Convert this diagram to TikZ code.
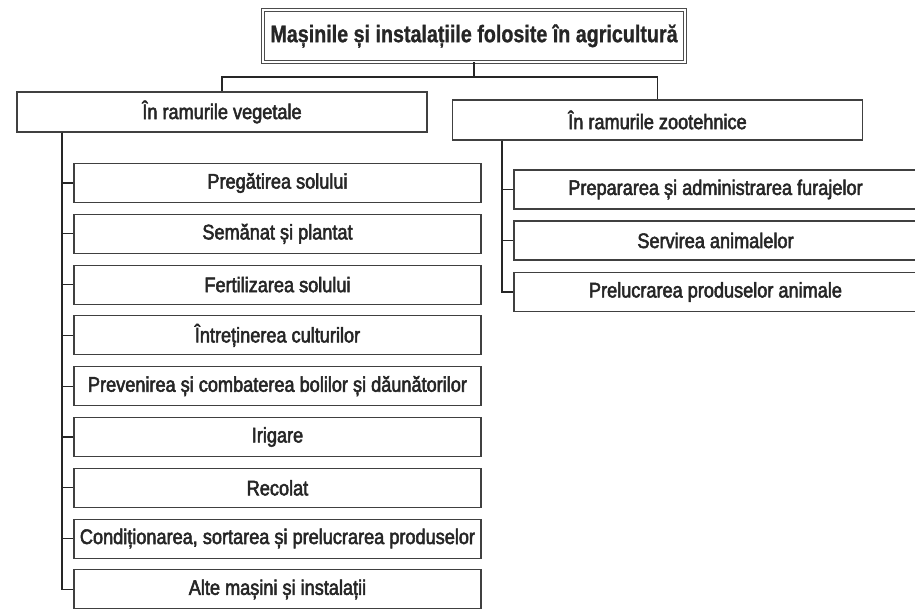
\documentclass[tikz,border=0pt]{standalone}
\usepackage{fontspec}
\setmainfont{Liberation Sans}
\newfontfamily\boxfont{Liberation Sans}[FakeStretch=0.86,FakeBold=2.5]
\newfontfamily\titlefont{Liberation Sans}[FakeStretch=0.82,FakeBold=1]

\begin{document}
\begin{tikzpicture}[x=0.03cm, y=-0.03cm, line width=1.1pt, color=black!85,
    title node/.style={draw=black!70, double, double distance=1.4pt, line width=0.8pt, minimum width=12.66cm, minimum height=1.56cm, inner sep=0pt, font=\titlefont\fontsize{20.5}{24}\selectfont\bfseries},
    main node/.style={draw=black!75, line width=0.9pt, minimum width=12.3cm, minimum height=1.2cm, inner sep=0pt, font=\boxfont\fontsize{18}{21}\selectfont},
    sub node/.style={main node, minimum width=12.21cm, minimum height=1.17cm}]

    \useasboundingbox (0,0) rectangle (915,610);

    % Title
    \node[title node] (T) at (474,36) {Mașinile și instalațiile folosite în agricultură};

    % Two branches
    \node[main node] (V) at (222,112) {În ramurile vegetale};
    \node[main node] (Z) at (657.5,120) {În ramurile zootehnice};

    % Vegetal branch
    \node[sub node] (V1) at (277.5,183) {Pregătirea solului};
    \node[sub node] (V2) at (277.5,233.8) {Semănat și plantat};
    \node[sub node] (V3) at (277.5,284.6) {Fertilizarea solului};
    \node[sub node] (V4) at (277.5,335.4) {Întreținerea culturilor};
    \node[sub node] (V5) at (277.5,386.2) {Prevenirea și combaterea bolilor și dăunătorilor};
    \node[sub node] (V6) at (277.5,437) {Irigare};
    \node[sub node] (V7) at (277.5,487.8) {Recolat};
    \node[sub node] (V8) at (277.5,538.6) {Condiționarea, sortarea și prelucrarea produselor};
    \node[sub node] (V9) at (277.5,589.4) {Alte mașini și instalații};

    % Zootechnical branch
    \node[sub node, minimum width=12.09cm] (Z1) at (715.5,189.5) {Prepararea și administrarea furajelor};
    \node[sub node, minimum width=12.09cm] (Z2) at (715.5,240.5) {Servirea animalelor};
    \node[sub node, minimum width=12.09cm] (Z3) at (715.5,292) {Prelucrarea produselor animale};

    \coordinate (bus) at (474,77);
    \coordinate (VL) at (62,0);
    \coordinate (ZL) at (502,0);

    \draw (T) -- (bus);
    \draw (bus) -| (V);
    \draw (bus) -| (Z);

    \draw (V.south -| VL) |- (V1);
    \draw (V.south -| VL) |- (V2);
    \draw (V.south -| VL) |- (V3);
    \draw (V.south -| VL) |- (V4);
    \draw (V.south -| VL) |- (V5);
    \draw (V.south -| VL) |- (V6);
    \draw (V.south -| VL) |- (V7);
    \draw (V.south -| VL) |- (V8);
    \draw (V.south -| VL) |- (V9);

    \draw (Z.south -| ZL) |- (Z1);
    \draw (Z.south -| ZL) |- (Z2);
    \draw (Z.south -| ZL) |- (Z3);

\end{tikzpicture}
\end{document}
